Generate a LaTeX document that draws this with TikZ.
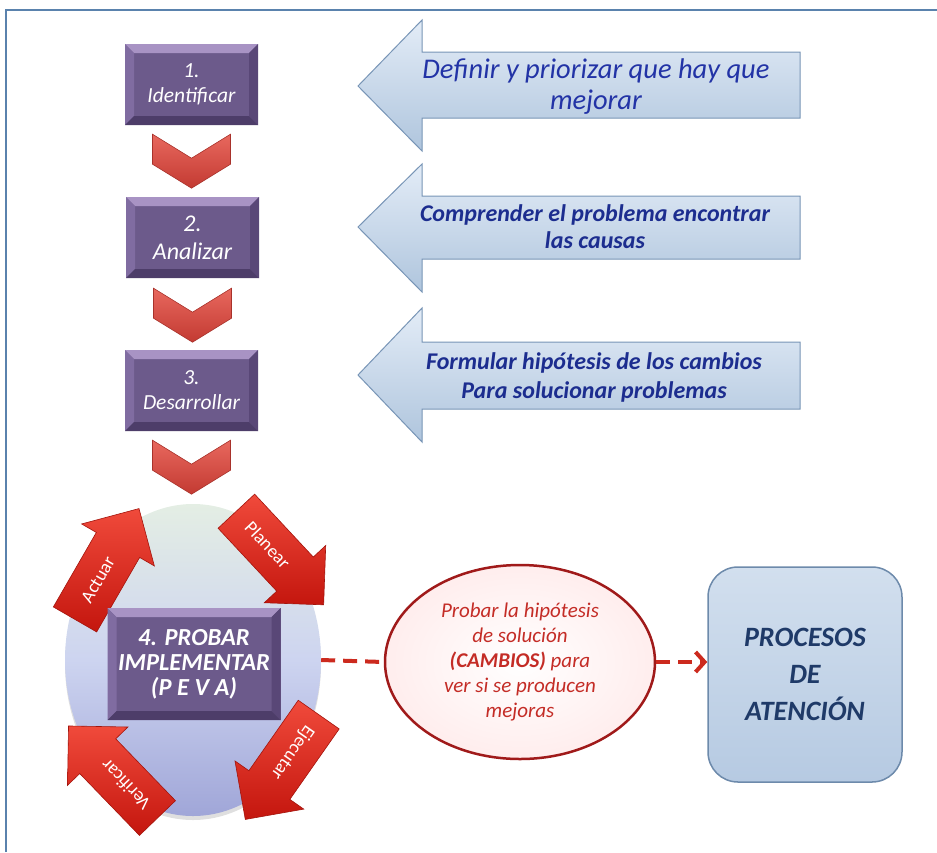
\documentclass[tikz,border=0pt]{standalone}
\usepackage{fontspec}
\setmainfont{Carlito}
\usetikzlibrary{shapes.geometric,calc,arrows.meta,shadows}

\definecolor{framecol}{HTML}{5A82AD}
\definecolor{boxpurple}{HTML}{6C5A8B}
\definecolor{bevtop}{HTML}{A893C4}
\definecolor{bevleft}{HTML}{806CA1}
\definecolor{bevright}{HTML}{594777}
\definecolor{bevbottom}{HTML}{4D3D69}
\definecolor{chevtop}{HTML}{E8685E}
\definecolor{chevbot}{HTML}{C33A32}
\definecolor{chevline}{HTML}{A8322B}
\definecolor{bluetop}{HTML}{E3ECF7}
\definecolor{bluebot}{HTML}{AFC5DD}
\definecolor{blueline}{HTML}{7895B6}
\definecolor{bluetext}{HTML}{2233A6}
\definecolor{navytext}{HTML}{1C2D8F}
\definecolor{redtop}{HTML}{F04A3B}
\definecolor{redbot}{HTML}{C4160E}
\definecolor{redline}{HTML}{A3140C}
\definecolor{dashred}{HTML}{CC2A1E}
\definecolor{ellline}{HTML}{A01A1A}
\definecolor{elltext}{HTML}{C42C26}
\definecolor{procfillA}{HTML}{D2DFEE}
\definecolor{procfillB}{HTML}{B6CAE2}
\definecolor{procline}{HTML}{6D8AAB}
\definecolor{proctext}{HTML}{1F3A68}
\definecolor{circtop}{HTML}{E4EEE4}
\definecolor{circmid}{HTML}{CDD4F0}
\definecolor{circbot}{HTML}{A0A6D8}

\tikzset{
  bevel/.style={
    fill=boxpurple, text=white, align=center, inner sep=0pt,
    path picture={
      \fill[bevtop] (path picture bounding box.north west) -- (path picture bounding box.north east)
        -- ([xshift=-9pt,yshift=-9pt]path picture bounding box.north east)
        -- ([xshift=9pt,yshift=-9pt]path picture bounding box.north west) -- cycle;
      \fill[bevleft] (path picture bounding box.north west) -- ([xshift=9pt,yshift=-9pt]path picture bounding box.north west)
        -- ([xshift=9pt,yshift=9pt]path picture bounding box.south west)
        -- (path picture bounding box.south west) -- cycle;
      \fill[bevright] (path picture bounding box.north east) -- ([xshift=-9pt,yshift=-9pt]path picture bounding box.north east)
        -- ([xshift=-9pt,yshift=9pt]path picture bounding box.south east)
        -- (path picture bounding box.south east) -- cycle;
      \fill[bevbottom] (path picture bounding box.south west) -- ([xshift=9pt,yshift=9pt]path picture bounding box.south west)
        -- ([xshift=-9pt,yshift=9pt]path picture bounding box.south east)
        -- (path picture bounding box.south east) -- cycle;
    }},
  stepbox/.style={bevel, minimum width=133pt, minimum height=81pt,
    font=\fontsize{21.5}{25}\selectfont\itshape},
  peva/.style={bevel, minimum width=173pt, minimum height=112pt,
    font=\fontsize{24.5}{25}\selectfont\bfseries\itshape},
  chevron/.style={top color=chevtop, bottom color=chevbot, draw=chevline, line width=0.6pt},
  bluearrow/.style={top color=bluetop, bottom color=bluebot, draw=blueline, line width=1pt},
  redarrow/.style={top color=redtop, bottom color=redbot, draw=redline, line width=0.6pt},
  arrowlabel/.style={text=white, font=\fontsize{18.5}{20}\selectfont, inner sep=0pt},
  dashcon/.style={draw=dashred, line width=4pt, dash pattern=on 14pt off 8pt},
}

% V-shaped chevron hanging below a box
\newcommand\downchevron[1]{%
  \path[chevron] ($(#1)+(-39,0)$) -- ($(#1)+(0,24)$) -- ($(#1)+(39,0)$) -- ($(#1)+(39,30)$)
    -- ($(#1)+(0,54)$) -- ($(#1)+(-39,30)$) -- cycle;}

% one arrow of the PEVA cycle: name, centre x, centre y, direction, label
\newcommand\cyclearrow[5]{%
  \begin{scope}[shift={(#2,#3)}, rotate=#4]
    \path[redarrow] (-64,-25) -- (22,-25) -- (22,-42) -- (64,0) -- (22,42) -- (22,25) -- (-64,25) -- cycle;
    \node[arrowlabel, rotate=#4] (#1) at (-18,0) {#5};
  \end{scope}}

\begin{document}
\begin{tikzpicture}[x=1pt,y=-1pt]
\useasboundingbox (0,0) rectangle (937,852);

% frame
\draw[framecol, line width=2.5pt] (6,852) -- (6,10) -- (937,10);

% explanatory arrows
\path[bluearrow] (358,86) -- (422,20) -- (422,52) -- (800,52) -- (800,118) -- (422,118) -- (422,151) -- cycle;
\node[text=bluetext, font=\fontsize{28.5}{31}\selectfont\itshape, align=center] (t1) at (596,87)
  {Definir y priorizar que hay que\\mejorar};

\path[bluearrow] (358,227) -- (422,164) -- (422,196) -- (800,196) -- (800,259) -- (422,259) -- (422,292) -- cycle;
\node[text=navytext, font=\fontsize{24}{27}\selectfont\bfseries\itshape, align=center] (t2) at (595,227)
  {Comprender el problema encontrar\\las causas};

\path[bluearrow] (358,375) -- (422,308) -- (422,342) -- (800,342) -- (800,409) -- (422,409) -- (422,442) -- cycle;
\node[text=navytext, font=\fontsize{24}{29}\selectfont\bfseries\itshape, align=center] (t3) at (594,377)
  {Formular hipótesis de los cambios\\Para solucionar problemas};

% steps
\node[stepbox] (b1) at (191.5,84.5) {1.\\Identificar};
\node[stepbox, font=\fontsize{24}{28}\selectfont\itshape] (b2) at (192.5,237.5) {2.\\Analizar};
\node[stepbox] (b3) at (191.5,390.5) {3.\\Desarrollar};

\downchevron{$(b1.south)+(0,9)$}
\downchevron{$(b2.south)+(0,10)$}
\downchevron{$(b3.south)+(0,9)$}

% PEVA cycle
\node[ellipse, minimum width=256pt, minimum height=312pt, inner sep=0pt,
  top color=circtop, bottom color=circbot, middle color=circmid,
  drop shadow={opacity=0.25, shadow xshift=0pt, shadow yshift=-4pt}] (c4) at (193,660) {};

\cyclearrow{a1}{107}{564}{60}{Actuar}
\cyclearrow{a2}{280}{558}{-47}{Planear}
\cyclearrow{a3}{282}{767}{-125}{Ejecutar}
\cyclearrow{a4}{113}{772}{134}{Verificar}

\node[peva] (b4) at (194,664) {4. PROBAR\\IMPLEMENTAR\\(P E V A)};

% hypothesis and target
\node[ellipse, minimum width=270pt, minimum height=194pt, inner sep=0pt,
  draw=ellline, line width=2.5pt, inner color=white, outer color=red!7!white,
  text=elltext, align=center, font=\fontsize{21}{25}\selectfont\itshape] (ell) at (520,662)
  {Probar la hipótesis\\de solución\\{\bfseries(CAMBIOS)} para\\ver si se producen\\mejoras};

\node[rounded corners=30pt, minimum width=194pt, minimum height=215pt, inner sep=0pt,
  top color=procfillA, bottom color=procfillB, draw=procline, line width=1.5pt,
  text=proctext, align=center, font=\fontsize{28}{37}\selectfont\bfseries\itshape] (pa) at (805,674.5)
  {PROCESOS\\DE\\ATENCIÓN};

\draw[dashcon] (c4.east) -- (ell.west);
\draw[dashcon, -{Straight Barb[length=9pt,width=20pt]}] (ell.east) -- (ell.east -| pa.west);

\end{tikzpicture}
\end{document}
